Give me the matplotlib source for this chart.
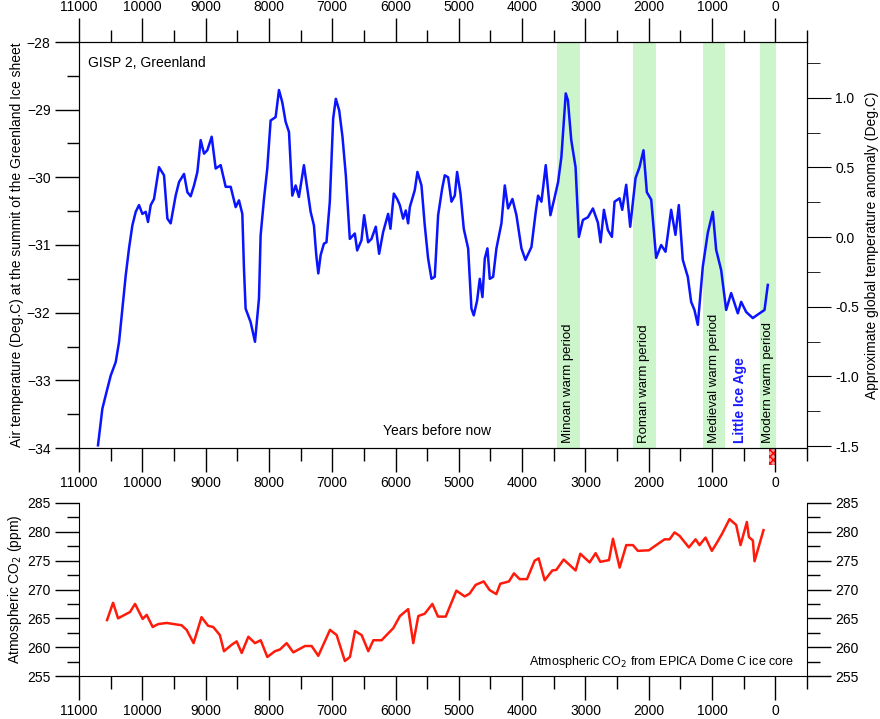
import matplotlib
matplotlib.use("Agg")
import matplotlib.pyplot as plt
from matplotlib.ticker import MultipleLocator
from matplotlib.patches import Rectangle
import matplotlib.transforms as mtransforms

plt.rcParams['font.family'] = ['Liberation Sans', 'DejaVu Sans']

temp_years = [10700,10631,10578,10499,10420,10367,10315,10262,10210,10157,10104,10052,9999,9946,9910,9867,9815,9736,9657,9604,9552,9473,9420,9341,9288,9236,9183,9130,9078,9025,8973,8904,8841,8762,8683,8604,8525,8473,8420,8394,8368,8289,8220,8157,8131,8078,8026,7973,7894,7841,7789,7736,7683,7631,7578,7526,7447,7394,7341,7289,7252,7220,7183,7131,
              7091,7038,6985,6943,6890,6838,6785,6722,6643,6606,6538,6496,6433,6380,6312,6259,6196,6117,6080,6027,5974,5932,5880,5838,5801,5774,5696,5654,5590,5538,5485,5432,5380,5327,5264,5222,5169,5116,5064,5027,4974,4922,4853,4801,4764,4711,4669,4627,4590,4548,4511,4458,4406,4327,4274,4222,4153,4090,4011,3948,3853,3785,3748,3695,3627,3553,3485,3432,3380,3311,
              3277,3224,3156,3103,3040,2961,2882,2803,2761,2708,2645,2582,2540,2461,2419,2356,2293,2208,2146,2083,2030,1961,1883,1804,1735,1646,1578,1525,1462,1383,1330,1278,1225,1146,1067,988,935,856,777,698,593,540,461,356,250,171,119]
temp_vals = [-33.96,-33.42,-33.22,-32.93,-32.73,-32.43,-31.94,-31.45,-31.05,-30.71,-30.51,-30.41,-30.54,-30.51,-30.66,-30.41,-30.32,-29.85,-29.97,-30.61,-30.68,-30.27,-30.07,-29.95,-30.22,-30.28,-30.12,-29.92,-29.45,-29.65,-29.60,-29.40,-29.87,-29.82,-30.14,-30.14,-30.44,-30.34,-30.54,-31.35,-31.94,-32.14,-32.43,-31.79,-30.86,-30.32,-29.87,-29.16,-29.11,-28.71,-28.89,-29.18,-29.33,-30.27,-30.12,-30.29,-29.82,-30.17,-30.51,-30.71,-31.15,-31.42,-31.15,-30.98,
             -30.96,-30.36,-29.13,-28.84,-29.01,-29.40,-29.97,-30.91,-30.83,-31.08,-30.93,-30.56,-30.96,-30.91,-30.73,-31.13,-30.81,-30.54,-30.76,-30.24,-30.32,-30.41,-30.61,-30.49,-30.68,-30.44,-30.19,-29.92,-30.12,-30.71,-31.20,-31.50,-31.47,-30.56,-30.17,-29.97,-30.00,-30.36,-30.27,-29.92,-30.24,-30.76,-31.05,-31.94,-32.04,-31.82,-31.50,-31.77,-31.20,-31.05,-31.50,-31.47,-31.05,-30.68,-30.12,-30.46,-30.32,-30.56,-31.05,-31.22,-31.03,-30.51,-30.27,-30.36,-29.82,-30.56,-30.29,-30.07,-29.70,-28.76,
             -28.86,-29.45,-29.85,-30.88,-30.63,-30.59,-30.46,-30.67,-30.96,-30.48,-30.78,-30.88,-30.36,-30.31,-30.48,-30.11,-30.73,-30.01,-29.85,-29.60,-30.22,-30.33,-31.19,-31.00,-31.10,-30.48,-30.85,-30.41,-31.22,-31.47,-31.84,-31.96,-32.18,-31.32,-30.82,-30.51,-31.07,-31.37,-31.96,-31.71,-32.01,-31.84,-31.99,-32.08,-32.01,-31.96,-31.59]

co2_years = [10557,10462,10383,10194,10115,9994,9931,9836,9750,9615,9380,9300,9190,9065,8960,8880,8775,8710,8590,8510,8430,8325,8220,8130,8025,7905,7825,7720,7615,7430,7325,7220,7035,6930,6800,6720,6640,6535,6430,6350,6220,6115,6035,5930,5800,5720,5640,5539,5418,5329,5207,
             5039,4907,4829,4734,4607,4513,4408,4345,4208,4129,4039,3923,3802,3739,3644,3523,3460,3344,3155,3081,2934,2839,2765,2628,2565,2460,2355,2250,2171,1997,1934,1750,1671,1592,1513,1366,1261,1198,1103,1003,924,840,724,619,550,450,418,355,329,187]
co2_vals = [264.7,267.7,265.0,266.1,267.5,264.9,265.6,263.5,264.0,264.2,263.8,263.0,260.7,265.2,263.7,263.5,262.1,259.3,260.4,261.0,259.0,261.8,260.7,261.2,258.3,259.3,259.6,260.7,259.1,260.2,260.2,258.5,263.0,262.1,257.6,258.3,262.8,262.1,259.3,261.2,261.2,262.4,263.3,265.4,266.6,260.7,265.4,265.8,267.5,265.3,265.3,
            269.8,268.8,269.3,270.8,271.4,269.9,269.2,271.0,271.4,272.8,271.8,271.8,275.0,275.4,271.6,273.3,273.4,275.2,273.3,276.2,274.7,276.3,274.8,275.1,278.8,273.8,277.7,277.7,276.7,276.8,277.3,278.7,278.7,279.9,279.3,277.3,278.7,277.7,279.0,276.7,278.1,279.7,282.2,281.2,277.7,281.7,279.1,278.5,274.9,280.3]

periods = [(3450, 3090, "Minoan warm period"), (2255, 1890, "Roman warm period"),
           (1150, 790, "Medieval warm period"), (240, -15, "Modern warm period")]

W, H = 880, 719
fig = plt.figure(figsize=(W/100, H/100), dpi=100)
ax = fig.add_axes([79/W, (H-448)/H, (807-79)/W, (448-42)/H])
ax2 = fig.add_axes([79/W, (H-676)/H, (807-79)/W, (676-503)/H])

fs = 10
for a in (ax, ax2):
    a.set_xlim(11000, -500)
    a.xaxis.set_major_locator(MultipleLocator(1000))
    a.xaxis.set_minor_locator(MultipleLocator(500))
    a.tick_params(which='major', length=17, width=1, labelsize=fs, direction='out')
    a.tick_params(which='minor', length=9, width=1, direction='out')

for x0, x1, lab in periods:
    ax.axvspan(x1, x0, color='#ccf5cc', lw=0, zorder=0)
    ax.text((x0+x1)/2, -33.92, lab, rotation=90, ha='center', va='bottom', fontsize=9.5)
ax.text(560, -33.92, "Little Ice Age", rotation=90, ha='center', va='bottom', fontsize=10,
        color='#1a1aff', fontweight='bold')

ax.plot(temp_years, temp_vals, color='#0a14ff', lw=1.8, zorder=3)
ax.set_ylim(-34, -28)
ax.yaxis.set_major_locator(MultipleLocator(1))
ax.yaxis.set_minor_locator(MultipleLocator(0.5))
ax.tick_params(axis='x', which='both', top=True, labeltop=True)
ax.set_ylabel("Air temperature (Deg.C) at the summit of the Greenland Ice sheet", fontsize=fs, labelpad=2)
ax.text(0.012, 0.965, "GISP 2, Greenland", transform=ax.transAxes, fontsize=fs, va='top')
ax.text(5350, -33.75, "Years before now", fontsize=fs, ha='center', va='center')

trans = mtransforms.blended_transform_factory(ax.transData, ax.transAxes)
ax.add_patch(Rectangle((100, -0.042), -115, 0.042, transform=trans, clip_on=False,
                       facecolor='#ff9999', edgecolor='red', hatch='xxxxx', lw=0))

axr = ax.twinx()
axr.set_ylim(-1.514, 1.4)
axr.yaxis.set_major_locator(MultipleLocator(0.5))
axr.yaxis.set_minor_locator(MultipleLocator(0.25))
axr.yaxis.set_major_formatter(matplotlib.ticker.FormatStrFormatter('%.1f'))
axr.tick_params(which='major', length=17, labelsize=fs)
axr.tick_params(which='minor', length=9)
axr.set_ylabel("Approximate global temperature anomaly (Deg.C)", fontsize=fs, labelpad=4)

ax2.plot(co2_years, co2_vals, color='#ff1a0a', lw=1.8)
ax2.set_ylim(255, 285)
ax2.yaxis.set_major_locator(MultipleLocator(5))
ax2.yaxis.set_minor_locator(MultipleLocator(2.5))
ax2.spines['top'].set_visible(False)
ax2.tick_params(axis='y', which='both', right=True, labelright=True)
ax2.set_ylabel("Atmospheric CO$_2$ (ppm)", fontsize=fs, labelpad=2)
ax2.text(-300, 257.5, "Atmospheric CO$_2$ from EPICA Dome C ice core", fontsize=9, ha='right', va='center')

fig.savefig("out.png", dpi=100)
